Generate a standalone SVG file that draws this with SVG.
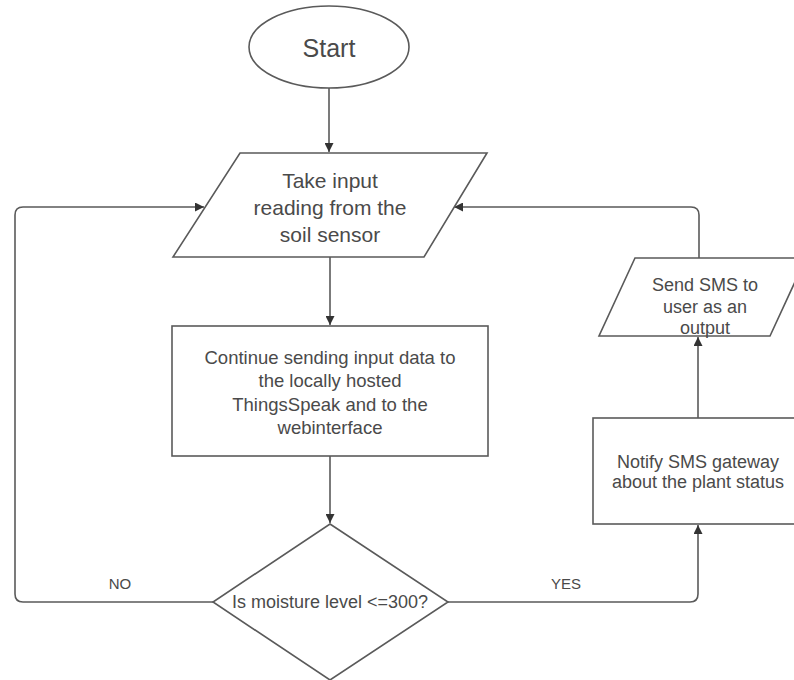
<svg xmlns="http://www.w3.org/2000/svg" width="794" height="680" viewBox="0 0 794 680">
<style>
.shape{fill:#fff;stroke:#5a5a5a;stroke-width:1.6}
.conn{fill:none;stroke:#5a5a5a;stroke-width:1.6}
text{font-family:"Liberation Sans",Arial,sans-serif;fill:#4a4a4a;text-anchor:middle;dominant-baseline:central}
</style>
<defs>
<marker id="arr" viewBox="0 0 10 10" refX="10" refY="5" markerWidth="9" markerHeight="9" markerUnits="userSpaceOnUse" orient="auto">
<path d="M0,0 L10,5 L0,10 z" fill="#333"/>
</marker>
</defs>
<rect width="794" height="680" fill="#fff"/>
<g id="connectors">
<path class="conn" d="M329,88 L329,152" marker-end="url(#arr)"/>
<path class="conn" d="M330,257 L330,325" marker-end="url(#arr)"/>
<path class="conn" d="M330,456 L330,523" marker-end="url(#arr)"/>
<path class="conn" d="M213,602 L23,602 Q15,602 15,594 L15,215 Q15,207 23,207 L204,207" marker-end="url(#arr)"/>
<path class="conn" d="M448,602 L690,602 Q698,602 698,594 L698,525" marker-end="url(#arr)"/>
<path class="conn" d="M698,418 L698,337" marker-end="url(#arr)"/>
<path class="conn" d="M699,258 L699,215 Q699,207 691,207 L454,207" marker-end="url(#arr)"/>
</g>
<g id="start">
<ellipse class="shape" cx="329" cy="47" rx="80" ry="41"/>
<text x="329" y="48" font-size="25">Start</text>
</g>
<g id="input">
<polygon class="shape" points="240,153 487,153 424,257 173,257"/>
<text x="330" y="180" font-size="21">Take input</text>
<text x="330" y="207" font-size="21">reading from the</text>
<text x="330" y="234" font-size="21">soil sensor</text>
</g>
<g id="send">
<rect class="shape" x="172" y="326" width="316" height="130"/>
<text x="330" y="357" font-size="18.5">Continue sending input data to</text>
<text x="330" y="380" font-size="18.5">the locally hosted</text>
<text x="330" y="404" font-size="18.5">ThingsSpeak and to the</text>
<text x="330" y="427" font-size="18.5">webinterface</text>
</g>
<g id="decision">
<polygon class="shape" points="330,524 448,602 330,680 213,602"/>
<text x="330" y="602" font-size="18">Is moisture level &lt;=300?</text>
</g>
<g id="notify">
<rect class="shape" x="593" y="418" width="215" height="106"/>
<text x="698" y="462" font-size="18">Notify SMS gateway</text>
<text x="698" y="482" font-size="18">about the plant status</text>
</g>
<g id="sms">
<polygon class="shape" points="635,258 806,258 770,336 599,336"/>
<text x="705" y="285" font-size="18">Send SMS to</text>
<text x="705" y="307" font-size="18">user as an</text>
<text x="705" y="328" font-size="18">output</text>
</g>
<g id="labels">
<text x="120" y="583" font-size="15">NO</text>
<text x="566" y="583" font-size="15">YES</text>
</g>
</svg>
